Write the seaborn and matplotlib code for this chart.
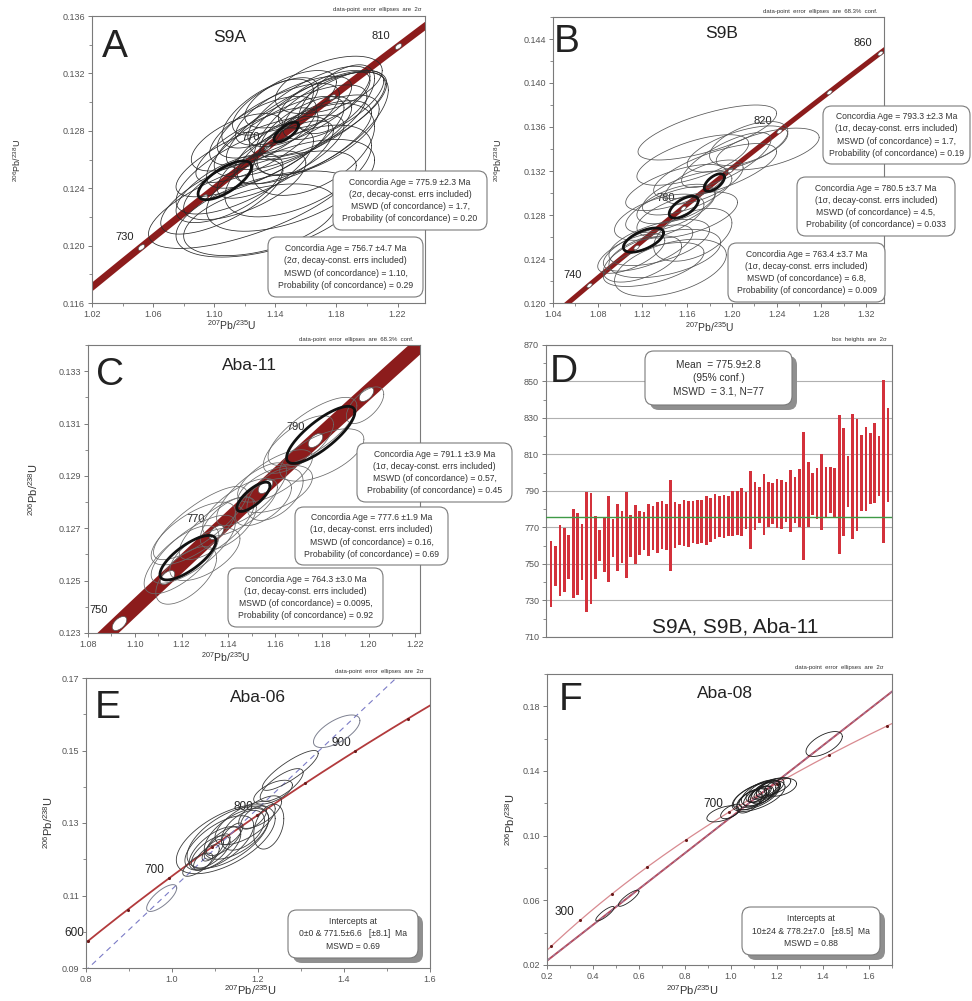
import numpy as np
import matplotlib
matplotlib.use("Agg")
import matplotlib.pyplot as plt
import seaborn as sns
from matplotlib.patches import FancyBboxPatch
from matplotlib.ticker import MultipleLocator, FormatStrFormatter

sns.set_style("ticks")
plt.rcParams["font.family"] = ["Liberation Sans", "DejaVu Sans"]
plt.rcParams["mathtext.fontset"] = "custom"
plt.rcParams["mathtext.rm"] = "Liberation Sans"
plt.rcParams["mathtext.it"] = "Liberation Sans:italic"

# ---------------------------------------------------------------- constants
L238 = 1.55125e-10   # decay constant 238U (1/yr)
L235 = 9.8485e-10    # decay constant 235U (1/yr)

# ---------------------------------------------------------------- panel A (S9A), 2-sigma ellipses
a_x = [1.125, 1.135, 1.130, 1.150, 1.120, 1.125, 1.140, 1.150, 1.160, 1.168,
       1.170, 1.162, 1.152, 1.142, 1.132, 1.128, 1.158, 1.168, 1.178, 1.172,
       1.150, 1.140, 1.160, 1.150, 1.140, 1.120, 1.110, 1.105, 1.165, 1.175,
       1.155, 1.135, 1.180, 1.115]
a_y = [0.1232, 0.1222, 0.1218, 0.1242, 0.1252, 0.1262, 0.1272, 0.1280, 0.1287, 0.1292,
       0.1285, 0.1297, 0.1294, 0.1287, 0.1280, 0.1270, 0.1272, 0.1277, 0.1298, 0.1302,
       0.1302, 0.1297, 0.1282, 0.1267, 0.1260, 0.1242, 0.1240, 0.1234, 0.1267, 0.1312,
       0.1252, 0.1292, 0.1302, 0.1272]
a_sx = [0.068, 0.060, 0.050, 0.055, 0.045, 0.050, 0.045, 0.050, 0.052, 0.045,
        0.044, 0.040, 0.038, 0.040, 0.035, 0.040, 0.045, 0.040, 0.033, 0.030,
        0.030, 0.028, 0.030, 0.035, 0.038, 0.040, 0.035, 0.040, 0.040, 0.035,
        0.048, 0.030, 0.025, 0.030]
a_sy = [0.0034, 0.0030, 0.0025, 0.0032, 0.0030, 0.0028, 0.0032, 0.0032, 0.0034, 0.0030,
        0.0036, 0.0028, 0.0024, 0.0026, 0.0024, 0.0026, 0.0029, 0.0028, 0.0024, 0.0020,
        0.0020, 0.0020, 0.0022, 0.0024, 0.0027, 0.0024, 0.0024, 0.0026, 0.0032, 0.0020,
        0.0032, 0.0024, 0.0024, 0.0020]
a_rho = [0.70, 0.50, 0.45, 0.55, 0.70, 0.75, 0.75, 0.75, 0.75, 0.70,
         0.65, 0.75, 0.70, 0.70, 0.65, 0.75, 0.70, 0.65, 0.70, 0.65,
         0.60, 0.65, 0.65, 0.70, 0.75, 0.65, 0.65, 0.70, 0.50, 0.50,
         0.55, 0.65, 0.60, 0.60]
a_conc_age = [756.7, 775.9]
a_conc_sx = [0.0175, 0.0080]
a_conc_sy = [0.00135, 0.00070]
a_conc_rho = [0.70, 0.70]
a_marks = [730, 750, 770, 790, 810]
a_labels = [730, 770, 810]

# ---------------------------------------------------------------- panel B (S9B), 1-sigma ellipses
b_x = [1.178, 1.232, 1.205, 1.185, 1.165, 1.195, 1.215, 1.175, 1.150, 1.160,
       1.150, 1.145, 1.160, 1.135, 1.135, 1.125, 1.140, 1.130, 1.145, 1.120,
       1.165, 1.110]
b_y = [0.1355, 0.1340, 0.1340, 0.1320, 0.1330, 0.1330, 0.1345, 0.1310, 0.1305, 0.1300,
       0.1290, 0.1285, 0.1280, 0.1278, 0.1255, 0.1250, 0.1245, 0.1235, 0.1232, 0.1240,
       0.1262, 0.1245]
b_sx = [0.062, 0.046, 0.045, 0.055, 0.050, 0.040, 0.035, 0.035, 0.045, 0.040,
        0.035, 0.040, 0.045, 0.040, 0.045, 0.040, 0.050, 0.045, 0.050, 0.035,
        0.035, 0.030]
b_sy = [0.0025, 0.0019, 0.0021, 0.0025, 0.0023, 0.0025, 0.0020, 0.0020, 0.0021, 0.0020,
        0.0018, 0.0021, 0.0021, 0.0021, 0.0021, 0.0021, 0.0022, 0.0020, 0.0026, 0.0021,
        0.0024, 0.0018]
b_rho = [0.70, 0.55, 0.65, 0.70, 0.65, 0.75, 0.55, 0.65, 0.65, 0.65,
         0.55, 0.65, 0.55, 0.55, 0.55, 0.65, 0.45, 0.55, 0.45, 0.55,
         0.45, 0.65]
b_conc_age = [763.4, 780.5, 793.3]
b_conc_sx = [0.018, 0.013, 0.009]
b_conc_sy = [0.0011, 0.0010, 0.0008]
b_conc_rho = [0.60, 0.60, 0.60]
b_marks = [740, 760, 780, 800, 820, 840, 860]
b_labels = [740, 780, 820, 860]

# ---------------------------------------------------------------- panel C (Aba-11), 1-sigma ellipses
c_x = [1.176, 1.1985, 1.170, 1.180, 1.160, 1.150, 1.155, 1.145, 1.160, 1.135,
       1.125, 1.120, 1.130, 1.122, 1.140, 1.125, 1.128, 1.160]
c_y = [0.1307, 0.1317, 0.1302, 0.1298, 0.1290, 0.1283, 0.1280, 0.1278, 0.1283, 0.1270,
       0.1262, 0.1258, 0.1260, 0.1252, 0.1272, 0.1268, 0.1272, 0.1285]
c_sx = [0.019, 0.008, 0.015, 0.018, 0.016, 0.015, 0.012, 0.016, 0.012, 0.016,
        0.018, 0.016, 0.015, 0.013, 0.012, 0.018, 0.020, 0.016]
c_sy = [0.0013, 0.0007, 0.0011, 0.0010, 0.0010, 0.0012, 0.0009, 0.0011, 0.0010, 0.0012,
        0.0013, 0.0013, 0.0010, 0.0011, 0.0010, 0.0012, 0.0014, 0.0009]
c_rho = [0.75, 0.60, 0.70, 0.60, 0.70, 0.75, 0.60, 0.70, 0.50, 0.75,
         0.75, 0.70, 0.60, 0.60, 0.60, 0.70, 0.80, 0.50]
c_conc_age = [764.3, 777.6, 791.1]
c_conc_sx = [0.0120, 0.0071, 0.0146]
c_conc_sy = [0.00085, 0.00056, 0.00109]
c_conc_rho = [0.75, 0.75, 0.80]
c_marks = [750, 760, 770, 780, 790, 800]
c_labels = [750, 770, 790]

# ---------------------------------------------------------------- panel D, weighted mean of 206Pb/238U ages
d_age = [744.4, 748.9, 751.7, 752.1, 753.7, 755.8, 755.6, 756.6, 756.6, 758.4,
         758.9, 760.3, 760.7, 763.7, 764.2, 764.6, 764.8, 765.8, 765.5, 766.0,
         766.9, 768.1, 768.8, 769.7, 769.9, 771.2, 770.3, 771.2, 771.2, 771.8,
         772.4, 771.9, 773.0, 773.0, 773.3, 773.9, 774.2, 776.0, 776.0, 776.1,
         776.4, 777.7, 778.1, 778.3, 779.5, 779.7, 781.7, 782.2, 782.6, 782.7,
         783.1, 783.1, 782.7, 783.8, 784.7, 785.0, 786.0, 787.3, 788.2, 788.5,
         788.6, 789.4, 789.6, 790.6, 789.4, 793.7, 794.9, 795.1, 797.9, 798.8,
         799.8, 801.8, 802.5, 805.4, 803.9, 806.1, 809.6]
d_err = [18.0, 10.8, 19.5, 17.5, 12.0, 24.5, 22.5, 15.2, 33.1, 30.4,
         17.2, 8.5, 15.3, 23.3, 10.6, 18.3, 14.3, 23.5, 11.4, 16.1,
         11.9, 10.3, 14.3, 11.9, 13.9, 13.1, 12.5, 24.9, 12.5, 11.3,
         12.4, 12.7, 11.6, 12.1, 11.9, 13.4, 11.9, 12.4, 11.3, 11.9,
         11.0, 12.1, 12.1, 13.2, 10.2, 21.4, 13.0, 9.8, 16.6, 12.2,
         11.3, 13.5, 13.4, 10.9, 16.9, 12.6, 16.0, 35.0, 17.7, 11.6,
         13.9, 21.0, 13.6, 12.8, 13.4, 38.1, 29.5, 14.1, 34.3, 30.6,
         21.0, 23.0, 19.5, 22.1, 16.4, 44.7, 25.7]
d_mean = 775.9

# ---------------------------------------------------------------- panel E (Aba-06), 2-sigma ellipses
e_x = [1.383, 0.976,
       1.125, 1.130, 1.110, 1.150, 1.100, 1.090, 1.120, 1.105, 1.095, 1.080,
       1.165, 1.205, 1.225, 1.235, 1.255, 1.275, 1.190, 1.140, 1.060, 1.170]
e_y = [0.1553, 0.1093,
       0.1255, 0.1260, 0.1245, 0.1270, 0.1230, 0.1220, 0.1250, 0.1235, 0.1225, 0.1205,
       0.1280, 0.1330, 0.1290, 0.1385, 0.1405, 0.1445, 0.1315, 0.1270, 0.1185, 0.1300]
e_sx = [0.054, 0.035,
        0.115, 0.095, 0.080, 0.075, 0.060, 0.045, 0.040, 0.030, 0.025, 0.030,
        0.050, 0.050, 0.035, 0.045, 0.050, 0.065, 0.030, 0.025, 0.035, 0.070]
e_sy = [0.0045, 0.0037,
        0.0095, 0.0085, 0.0075, 0.0070, 0.0060, 0.0045, 0.0040, 0.0035, 0.0030, 0.0035,
        0.0055, 0.0045, 0.0062, 0.0033, 0.0045, 0.0055, 0.0032, 0.0030, 0.0032, 0.0060]
e_rho = [0.65, 0.75,
         0.60, 0.60, 0.65, 0.60, 0.65, 0.65, 0.70, 0.70, 0.70, 0.70,
         0.50, 0.65, 0.35, 0.60, 0.75, 0.85, 0.60, 0.70, 0.70, 0.65]
e_intercepts = [0.0, 771.5]
e_marks = [600, 650, 700, 750, 800, 850, 900, 950]
e_labels = [600, 700, 800, 900]

# ---------------------------------------------------------------- panel F (Aba-08), 2-sigma ellipses
f_x = [1.405, 0.555, 0.452, 0.965, 1.000,
       1.120, 1.110, 1.130, 1.215, 1.140, 1.100, 1.150, 1.090, 1.160, 1.125,
       1.115, 1.135, 1.170, 1.080, 1.190, 1.140, 1.120]
f_y = [0.1567, 0.0613, 0.0517, 0.1135, 0.1150,
       0.1245, 0.1245, 0.1265, 0.1299, 0.1275, 0.1235, 0.1280, 0.1225, 0.1290, 0.1258,
       0.1250, 0.1268, 0.1295, 0.1210, 0.1305, 0.1262, 0.1242]
f_sx = [0.079, 0.045, 0.040, 0.070, 0.045,
        0.115, 0.100, 0.085, 0.070, 0.075, 0.065, 0.060, 0.065, 0.050, 0.050,
        0.040, 0.035, 0.060, 0.055, 0.070, 0.055, 0.065]
f_sy = [0.0077, 0.0050, 0.0045, 0.0050, 0.0045,
        0.0095, 0.0085, 0.0080, 0.0055, 0.0070, 0.0060, 0.0058, 0.0065, 0.0050, 0.0050,
        0.0045, 0.0038, 0.0060, 0.0070, 0.0055, 0.0065, 0.0065]
f_rho = [0.60, 0.85, 0.85, 0.55, 0.60,
         0.60, 0.60, 0.60, 0.40, 0.60, 0.60, 0.60, 0.60, 0.65, 0.65,
         0.65, 0.65, 0.60, 0.55, 0.60, 0.55, 0.60]
f_intercepts = [10.0, 778.2]
f_marks = [200, 300, 400, 500, 600, 700, 800, 900, 1000]
f_labels = [300, 700]

# ---------------------------------------------------------------- helpers
W, H = 972, 1001
fig = plt.figure(figsize=(W / 100, H / 100), dpi=100)

BAND = "#8c1c1c"
TICK = "#555555"
SPINE = "#7a7a7a"
THETA = np.linspace(0, 2 * np.pi, 160)


def concordia(t_ma):
    t = np.asarray(t_ma, dtype=float) * 1e6
    return np.expm1(L235 * t), np.expm1(L238 * t)


def px_axes(l, t, r, b):
    return fig.add_axes([l / W, 1 - b / H, (r - l) / W, (b - t) / H])


def ftext(x, y, s, **kw):
    return fig.text(x / W, 1 - y / H, s, **kw)


def draw_ellipses(ax, xs, ys, sxs, sys_, rhos, color, lw, z=4):
    for cx, cy, sx, sy, r in zip(xs, ys, sxs, sys_, rhos):
        ex = cx + sx * np.cos(THETA)
        ey = cy + sy * (r * np.cos(THETA) + np.sqrt(1 - r * r) * np.sin(THETA))
        ax.plot(ex, ey, color=color, lw=lw, zorder=z)


def style(ax, xlim, ylim, xticks, yticks, xminor, yminor, xfmt, yfmt):
    ax.set_xlim(xlim)
    ax.set_ylim(ylim)
    ax.set_xticks(xticks)
    ax.set_yticks(yticks)
    ax.xaxis.set_minor_locator(MultipleLocator(xminor))
    ax.yaxis.set_minor_locator(MultipleLocator(yminor))
    ax.xaxis.set_major_formatter(FormatStrFormatter(xfmt))
    ax.yaxis.set_major_formatter(FormatStrFormatter(yfmt))
    ax.tick_params(which="major", length=3, width=0.7, color=SPINE,
                   labelsize=6.5, labelcolor=TICK, pad=2)
    ax.tick_params(which="minor", length=2, width=0.6, color=SPINE)
    for sp in ax.spines.values():
        sp.set_color(SPINE)
        sp.set_linewidth(0.8)
    ax.set_xlabel("")
    ax.set_ylabel("")


def band(ax, xlim, lw, color=BAND):
    t0 = np.log1p(xlim[0] - 0.05) / L235 / 1e6
    t1 = np.log1p(xlim[1] + 0.05) / L235 / 1e6
    cx, cy = concordia(np.linspace(t0, t1, 300))
    sns.lineplot(x=cx, y=cy, ax=ax, color=color, lw=lw, sort=False,
                 estimator=None, zorder=2, solid_capstyle="butt")


def band_angle(ax, t):
    # on-screen direction of the concordia at age t (degrees)
    p = ax.transData.transform(np.column_stack(concordia([t - 5, t + 5])))
    d = p[1] - p[0]
    return np.degrees(np.arctan2(d[1], d[0]))


def oval_marker(angle, aspect=0.55):
    a = np.radians(angle)
    t = np.linspace(0, 2 * np.pi, 40)
    x, y = np.cos(t), aspect * np.sin(t)
    return np.column_stack([x * np.cos(a) - y * np.sin(a),
                            x * np.sin(a) + y * np.cos(a)])


def age_marks(ax, marks, labels, size, off, fs=8, white=True):
    mx, my = concordia(marks)
    if white:
        mk = oval_marker(band_angle(ax, np.mean(marks)))
        ax.scatter(mx, my, s=size, c="white", edgecolors="#555555",
                   linewidths=0.5, zorder=3, marker=mk)
    else:
        ax.scatter(mx, my, s=size, c="#6a1a1a", linewidths=0, zorder=3)
    lx, ly = concordia(labels)
    for lab, x, y in zip(labels, lx, ly):
        ax.annotate(str(lab), (x, y), xytext=off, textcoords="offset pixels",
                    ha="center", va="center", fontsize=fs, color="#222222",
                    zorder=3, annotation_clip=False)


def info_box(x0, y0, x1, y1, s, fs=6.2, shadow=False, ls=1.45):
    r = 0.009
    if shadow:
        fig.patches.append(FancyBboxPatch(
            ((x0 + 5) / W, 1 - (y1 + 5) / H), (x1 - x0) / W, (y1 - y0) / H,
            boxstyle=f"round,pad=0,rounding_size={r}", transform=fig.transFigure,
            fc="#8f8f8f", ec="none", zorder=8))
    fig.patches.append(FancyBboxPatch(
        (x0 / W, 1 - y1 / H), (x1 - x0) / W, (y1 - y0) / H,
        boxstyle=f"round,pad=0,rounding_size={r}", transform=fig.transFigure,
        fc="white", ec="#7a7a7a", lw=0.8, zorder=9))
    ftext((x0 + x1) / 2, (y0 + y1) / 2, s, ha="center", va="center",
          fontsize=fs, linespacing=ls, color="#333333", zorder=10)


XLAB = r"$^{207}$Pb/$^{235}$U"
YLAB = r"$^{206}$Pb/$^{238}$U"


def conc_text(age, err, sig, mswd, prob):
    return (f"Concordia Age = {age} \u00b1{err} Ma\n"
            f"({sig}\u03c3, decay-const. errs included)\n"
            f"MSWD (of concordance) = {mswd},\n"
            f"Probability (of concordance) = {prob}")


# ================================================================ A
ax = px_axes(92, 16, 425, 303)
style(ax, (1.02, 1.238), (0.116, 0.136), [1.02, 1.06, 1.10, 1.14, 1.18, 1.22],
      [0.116, 0.120, 0.124, 0.128, 0.132, 0.136], 0.02, 0.002, "%.2f", "%.3f")
band(ax, (1.02, 1.238), 5.0)
age_marks(ax, a_marks, a_labels, 22, (-17, 10))
draw_ellipses(ax, a_x, a_y, a_sx, a_sy, a_rho, "#2a2a2a", 0.55)
cx, cy = concordia(a_conc_age)
draw_ellipses(ax, cx, cy, a_conc_sx, a_conc_sy, a_conc_rho, "#111111", 2.0, z=5)
ftext(115, 47, "A", fontsize=28, ha="center", va="center", color="#222222")
ftext(230, 38, "S9A", fontsize=12.5, ha="center", va="center", color="#222222")
ftext(421, 9, "data-point  error  ellipses  are  2\u03c3", fontsize=4.3,
      ha="right", va="center", color="#333333")
ftext(232, 325, XLAB, fontsize=7.5, ha="center", va="center", color="#333333")
ftext(17, 160, YLAB, fontsize=6.5, ha="center", va="center", rotation=90,
      color="#333333")
info_box(333, 171, 487, 230, conc_text("775.9", "2.3", "2", "1.7", "0.20"))
info_box(268, 237, 423, 297, conc_text("756.7", "4.7", "2", "1.10", "0.29"))

# ================================================================ B
ax = px_axes(553, 17, 884, 303)
style(ax, (1.04, 1.336), (0.120, 0.146), [1.04, 1.08, 1.12, 1.16, 1.20, 1.24, 1.28, 1.32],
      [0.120, 0.124, 0.128, 0.132, 0.136, 0.140, 0.144], 0.02, 0.002, "%.2f", "%.3f")
band(ax, (1.04, 1.336), 3.6)
age_marks(ax, b_marks, b_labels, 14, (-17, 10))
draw_ellipses(ax, b_x, b_y, b_sx, b_sy, b_rho, "#555555", 0.55)
cx, cy = concordia(b_conc_age)
draw_ellipses(ax, cx, cy, b_conc_sx, b_conc_sy, b_conc_rho, "#111111", 2.0, z=5)
ftext(567, 42, "B", fontsize=28, ha="center", va="center", color="#222222")
ftext(722, 33, "S9B", fontsize=12.5, ha="center", va="center", color="#222222")
ftext(877, 11, "data-point  error  ellipses  are  68.3%  conf.", fontsize=4.3,
      ha="right", va="center", color="#333333")
ftext(710, 327, XLAB, fontsize=7.5, ha="center", va="center", color="#333333")
ftext(498, 160, YLAB, fontsize=6.5, ha="center", va="center", rotation=90,
      color="#333333")
info_box(823, 106, 970, 164, conc_text("793.3", "2.3", "1", "1.7", "0.19"))
info_box(797, 177, 955, 236, conc_text("780.5", "3.7", "1", "4.5", "0.033"))
info_box(728, 243, 885, 302, conc_text("763.4", "3.7", "1", "6.8", "0.009"))

# ================================================================ C
ax = px_axes(88, 345, 420, 633)
style(ax, (1.08, 1.222), (0.123, 0.134), [1.08, 1.10, 1.12, 1.14, 1.16, 1.18, 1.20, 1.22],
      [0.123, 0.125, 0.127, 0.129, 0.131, 0.133], 0.01, 0.001, "%.2f", "%.3f")
band(ax, (1.08, 1.222), 10.5)
age_marks(ax, c_marks, c_labels, 110, (-20, 13))
draw_ellipses(ax, c_x, c_y, c_sx, c_sy, c_rho, "#6a6a6a", 0.55)
cx, cy = concordia(c_conc_age)
draw_ellipses(ax, cx, cy, c_conc_sx, c_conc_sy, c_conc_rho, "#111111", 2.0, z=5)
ftext(110, 375, "C", fontsize=28, ha="center", va="center", color="#222222")
ftext(249, 365, "Aba-11", fontsize=12.5, ha="center", va="center", color="#222222")
ftext(413, 339, "data-point  error  ellipses  are  68.3%  conf.", fontsize=4.3,
      ha="right", va="center", color="#333333")
ftext(226, 657, XLAB, fontsize=7.5, ha="center", va="center", color="#333333")
ftext(33, 490, YLAB, fontsize=8, ha="center", va="center", rotation=90,
      color="#333333")
info_box(357, 443, 512, 502, conc_text("791.1", "3.9", "1", "0.57", "0.45"))
info_box(295, 507, 448, 565, conc_text("777.6", "1.9", "1", "0.16", "0.69"))
info_box(228, 568, 383, 627, conc_text("764.3", "3.0", "1", "0.0095", "0.92"))

# ================================================================ D
ax = px_axes(546, 345, 892, 637)
idx = np.arange(1, len(d_age) + 1)
lo = np.array(d_age) - np.array(d_err)
ax.bar(idx, 2 * np.array(d_err), bottom=lo, width=0.6, color="#d3313b",
       linewidth=0, zorder=3)
ax.axhline(d_mean, color="#3f9a46", lw=1.0, zorder=4)
ax.set_xlim(-0.13, 77.9)
ax.set_ylim(710, 870)
ax.set_yticks(np.arange(710, 871, 20))
ax.yaxis.set_minor_locator(MultipleLocator(10))
ax.set_xticks([])
ax.yaxis.grid(True, which="major", color="#b0b0b0", lw=0.8, zorder=0)
ax.tick_params(which="major", axis="y", length=3, width=0.7, color=SPINE,
               labelsize=6.5, labelcolor=TICK, pad=2)
ax.tick_params(which="minor", axis="y", length=2, width=0.6, color=SPINE)
for sp in ax.spines.values():
    sp.set_color(SPINE)
    sp.set_linewidth(0.8)
ftext(564, 372, "D", fontsize=28, ha="center", va="center", color="#222222")
ftext(735, 627, "S9A, S9B, Aba-11", fontsize=15, ha="center", va="center",
      color="#222222")
ftext(887, 339, "box  heights  are  2\u03c3", fontsize=4.3, ha="right", va="center",
      color="#333333")
info_box(645, 351, 792, 405, f"Mean  = {d_mean}\u00b12.8\n(95% conf.)\nMSWD  = 3.1, N=77",
         fs=7.3, shadow=True, ls=1.4)

# ================================================================ E
ax = px_axes(86, 678, 430, 968)
style(ax, (0.8, 1.6), (0.09, 0.17), [0.8, 1.0, 1.2, 1.4, 1.6],
      [0.09, 0.11, 0.13, 0.15, 0.17], 0.1, 0.01, "%.1f", "%.2f")
band(ax, (0.8, 1.6), 1.3, color="#b23a3c")
dx, dy = concordia(e_intercepts)
slope = (dy[1] - dy[0]) / (dx[1] - dx[0])
lx = np.array([0.78, 1.62])
sns.lineplot(x=lx, y=dy[0] + slope * (lx - dx[0]), ax=ax, color="#7b7bc6",
             lw=0.8, zorder=2, linestyle=(0, (5, 4)))
age_marks(ax, e_marks, e_labels, 5, (-14, 8), fs=8.5, white=False)
draw_ellipses(ax, e_x[:2], e_y[:2], e_sx[:2], e_sy[:2], e_rho[:2], "#7d8090", 0.7)
draw_ellipses(ax, e_x[2:], e_y[2:], e_sx[2:], e_sy[2:], e_rho[2:], "#3a3a3a", 0.6)
ftext(108, 708, "E", fontsize=28, ha="center", va="center", color="#222222")
ftext(258, 698, "Aba-06", fontsize=12.5, ha="center", va="center", color="#222222")
ftext(423, 672, "data-point  error  ellipses  are  2\u03c3", fontsize=4.3,
      ha="right", va="center", color="#333333")
ftext(250, 990, XLAB, fontsize=8, ha="center", va="center", color="#333333")
ftext(48, 823, YLAB, fontsize=8, ha="center", va="center", rotation=90,
      color="#333333")
info_box(288, 910, 418, 958,
         "Intercepts at\n0\u00b10 & 771.5\u00b16.6   [\u00b18.1]  Ma\nMSWD = 0.69",
         fs=6.2, shadow=True, ls=1.45)

# ================================================================ F
ax = px_axes(547, 674, 892, 965)
style(ax, (0.2, 1.7), (0.02, 0.20), [0.2, 0.4, 0.6, 0.8, 1.0, 1.2, 1.4, 1.6],
      [0.02, 0.06, 0.10, 0.14, 0.18], 0.1, 0.02, "%.1f", "%.2f")
band(ax, (0.2, 1.7), 0.9, color="#d88a90")
dx, dy = concordia(f_intercepts)
slope = (dy[1] - dy[0]) / (dx[1] - dx[0])
lx = np.array([0.18, 1.72])
sns.lineplot(x=lx, y=dy[0] + slope * (lx - dx[0]), ax=ax, color="#b84a5c",
             lw=1.4, zorder=2)
sns.lineplot(x=lx, y=dy[0] + slope * (lx - dx[0]), ax=ax, color="#8a8ab0",
             lw=0.6, zorder=2, linestyle=(0, (4, 4)))
age_marks(ax, f_marks, f_labels, 5, (-16, 8), fs=8.5, white=False)
draw_ellipses(ax, f_x, f_y, f_sx, f_sy, f_rho, "#1e1e1e", 0.6)
ftext(571, 700, "F", fontsize=28, ha="center", va="center", color="#222222")
ftext(725, 693, "Aba-08", fontsize=12.5, ha="center", va="center", color="#222222")
ftext(883, 668, "data-point  error  ellipses  are  2\u03c3", fontsize=4.3,
      ha="right", va="center", color="#333333")
ftext(692, 990, XLAB, fontsize=8, ha="center", va="center", color="#333333")
ftext(510, 820, YLAB, fontsize=8, ha="center", va="center", rotation=90,
      color="#333333")
info_box(742, 907, 880, 955,
         "Intercepts at\n10\u00b124 & 778.2\u00b17.0   [\u00b18.5]  Ma\nMSWD = 0.88",
         fs=6.2, shadow=True, ls=1.45)

fig.savefig("out.png", dpi=100, facecolor="white")
